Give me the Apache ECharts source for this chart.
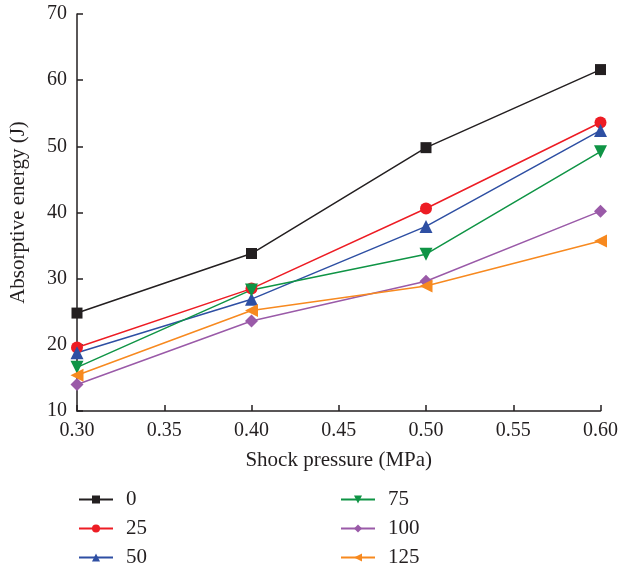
<!DOCTYPE html>
<html>
<head>
<meta charset="utf-8">
<script src="https://cdn.jsdelivr.net/npm/echarts@6/dist/echarts.min.js"></script>
<style>
  html, body { margin: 0; padding: 0; background: #fff; }
  #chart { width: 621px; height: 571px; }
</style>
</head>
<body>
<div id="chart"></div>
<script>
// shock pressure (MPa)
const pressures = [0.30, 0.40, 0.50, 0.60];
const seriesNames = ['0', '25', '50', '75', '100', '125'];
const s0 = [24.8, 33.8, 49.8, 61.6];
const s25 = [19.6, 28.5, 40.6, 53.6];
const s50 = [18.8, 26.9, 37.9, 52.4];
const s75 = [16.6, 28.3, 33.7, 49.2];
const s100 = [14.0, 23.6, 29.6, 40.2];
const s125 = [15.4, 25.2, 28.9, 35.7];
const yTicks = [10, 20, 30, 40, 50, 60, 70];

var chart = echarts.init(document.getElementById('chart'));

const font = '"Liberation Serif", "DejaVu Serif", serif';
const axisColor = '#231f20';

const styles = [
  { color: '#231f20', symbol: 'rect', size: 11, rotate: 0 },
  { color: '#ed1c24', symbol: 'circle', size: 12, rotate: 0 },
  { color: '#2e4fa3', symbol: 'triangle', size: 13, rotate: 0 },
  { color: '#0f9445', symbol: 'triangle', size: 13, rotate: 180 },
  { color: '#9a5aa8', symbol: 'diamond', size: 13, rotate: 0 },
  { color: '#f7891f', symbol: 'triangle', size: 13, rotate: 90 }
];
const allData = [s0, s25, s50, s75, s100, s125];

const series = seriesNames.map((name, i) => ({
  name: name,
  type: 'line',
  data: pressures.map((p, j) => [p, allData[i][j]]),
  symbol: styles[i].symbol,
  symbolSize: styles[i].size,
  symbolRotate: styles[i].rotate,
  lineStyle: { color: styles[i].color, width: 1.5 },
  itemStyle: { color: styles[i].color },
  animation: false
}));

const legendText = { fontFamily: font, fontSize: 21, color: '#231f20', padding: [0, 0, 0, 8] };
const legendBase = {
  orient: 'vertical',
  top: 489, height: 82, padding: 0,
  itemWidth: 34, itemHeight: 10, itemGap: 8,
  textStyle: legendText
};

const option = {
  backgroundColor: '#fff',
  grid: { left: 77, right: 17, top: 14, bottom: 160 },
  legend: [
    Object.assign({ data: seriesNames.slice(0, 3), left: 78 }, legendBase),
    Object.assign({ data: seriesNames.slice(3), left: 340 }, legendBase)
  ],
  xAxis: {
    type: 'value',
    min: 0.30, max: 0.60, interval: 0.05,
    name: 'Shock pressure (MPa)',
    nameLocation: 'middle',
    nameGap: 39,
    nameTextStyle: { fontFamily: font, fontSize: 21, color: '#231f20' },
    axisLine: { lineStyle: { color: axisColor, width: 1.5 } },
    axisTick: { inside: true, length: 6, lineStyle: { color: axisColor, width: 1.5 } },
    axisLabel: {
      fontFamily: font, fontSize: 20, color: '#231f20', margin: 10,
      formatter: v => v.toFixed(2)
    },
    splitLine: { show: false }
  },
  yAxis: {
    type: 'value',
    min: yTicks[0], max: yTicks[yTicks.length - 1], interval: 10,
    name: 'Absorptive energy (J)',
    nameLocation: 'middle',
    nameGap: 48,
    nameTextStyle: { fontFamily: font, fontSize: 21, color: '#231f20' },
    axisLine: { show: true, lineStyle: { color: axisColor, width: 1.5 } },
    axisTick: { show: true, inside: true, length: 6, lineStyle: { color: axisColor, width: 1.5 } },
    axisLabel: { fontFamily: font, fontSize: 20, color: '#231f20', margin: 10 },
    splitLine: { show: false }
  },
  series: series
};

chart.setOption(option);
</script>
</body>
</html>
